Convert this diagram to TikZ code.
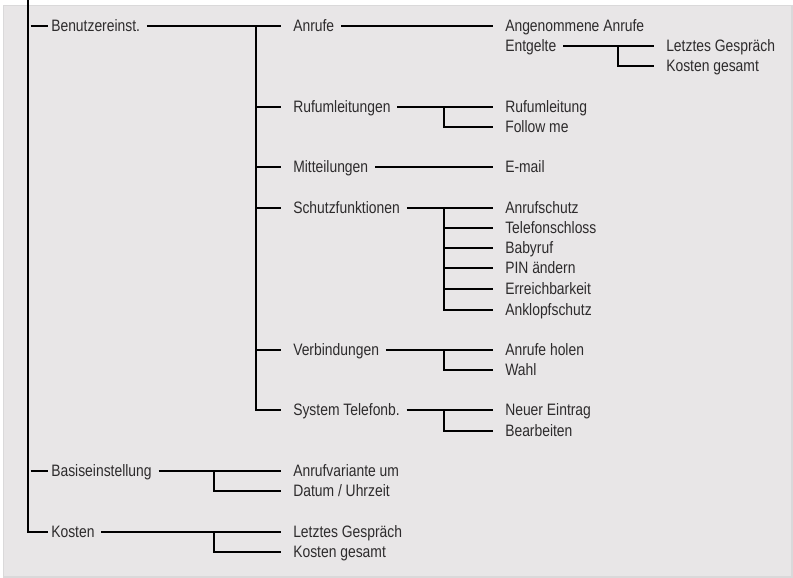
\documentclass[tikz,border=0pt]{standalone}
\usepackage{fontspec}
\setmainfont[FakeStretch=0.84]{Liberation Sans}
\usetikzlibrary{positioning, calc}
\definecolor{boxgray}{RGB}{232, 230, 231}
\definecolor{boxedge}{RGB}{218, 217, 218}
\definecolor{textgray}{RGB}{45, 43, 44}

\begin{document}
\begin{tikzpicture}[x=0.75pt, y=-0.75pt,
  entry/.style={anchor=west, inner sep=0pt, text height=8.9pt, text depth=0pt,
    font=\fontsize{12.4}{14}\selectfont, text=textgray},
  link/.style={line width=1.1pt, shorten <=5pt, shorten >=9pt},
  stub/.style={line width=1.1pt, shorten >=9pt},
  trunk/.style={line width=1.1pt, shorten >=2pt}]
  \useasboundingbox (0,0) rectangle (793,578);
  \filldraw[fill=boxgray, draw=boxedge, line width=0.8pt] (3.5,5.5) rectangle (792,577);

  % Level 1
  \coordinate (root) at (28,0);
  \node[entry] (benutzer) at (51,26) {Benutzereinst.};
  \node[entry] (basis) at (51,471) {Basiseinstellung};
  \node[entry] (kosten) at (51,532) {Kosten};

  % Level 2
  \node[entry] (anrufe) at (293,26) {Anrufe};
  \node[entry] (rufuml) at (293,107) {Rufumleitungen};
  \node[entry] (mitt) at (293,167) {Mitteilungen};
  \node[entry] (schutz) at (293,208) {Schutzfunktionen};
  \node[entry] (verb) at (293,350) {Verbindungen};
  \node[entry] (system) at (293,410) {System Telefonb.};
  \node[entry] (variante) at (293,471) {Anrufvariante um};
  \node[entry] (datum) at (293,491) {Datum / Uhrzeit};
  \node[entry] (letztesb) at (293,532) {Letztes Gespräch};
  \node[entry] (gesamtb) at (293,552) {Kosten gesamt};

  % Level 3
  \node[entry] (angen) at (505,26) {Angenommene Anrufe};
  \node[entry] (entgelte) at (505,46) {Entgelte};
  \node[entry] (rufum) at (505,107) {Rufumleitung};
  \node[entry] (follow) at (505,127) {Follow me};
  \node[entry] (email) at (505,167) {E-mail};
  \node[entry] (aschutz) at (505,208) {Anrufschutz};
  \node[entry] (tschloss) at (505,228) {Telefonschloss};
  \node[entry] (baby) at (505,248) {Babyruf};
  \node[entry] (pin) at (505,268) {PIN ändern};
  \node[entry] (erreich) at (505,289) {Erreichbarkeit};
  \node[entry] (anklopf) at (505,310) {Anklopfschutz};
  \node[entry] (holen) at (505,350) {Anrufe holen};
  \node[entry] (wahl) at (505,370) {Wahl};
  \node[entry] (neu) at (505,410) {Neuer Eintrag};
  \node[entry] (bearb) at (505,431) {Bearbeiten};

  % Level 4
  \node[entry] (letztesa) at (666,46) {Letztes Gespräch};
  \node[entry] (gesamta) at (666,66) {Kosten gesamt};

  % Branch points
  \coordinate (jbenutzer) at (256,26);
  \coordinate (jruf) at (444,107);
  \coordinate (jschutz) at (444,208);
  \coordinate (jverb) at (444,350);
  \coordinate (jsystem) at (444,410);
  \coordinate (jentgelte) at (618,46);
  \coordinate (jbasis) at (214,471);
  \coordinate (jkosten) at (214,532);

  % Trunk
  \draw[trunk] (root) |- (kosten.west);
  \draw[trunk, shorten <=2pt] (root |- benutzer.west) -- (benutzer.west);
  \draw[trunk, shorten <=2pt] (root |- basis.west) -- (basis.west);

  % Connectors
  \draw[link] (benutzer.east) -- (anrufe.west);
  \foreach \n in {rufuml, mitt, schutz, verb, system}
    \draw[stub] (jbenutzer) |- (\n.west);
  \draw[link] (anrufe.east) -- (angen.west);
  \draw[link] (entgelte.east) -- (letztesa.west);
  \draw[stub] (jentgelte) |- (gesamta.west);
  \draw[link] (rufuml.east) -- (rufum.west);
  \draw[stub] (jruf) |- (follow.west);
  \draw[link] (mitt.east) -- (email.west);
  \draw[link] (schutz.east) -- (aschutz.west);
  \foreach \n in {tschloss, baby, pin, erreich, anklopf}
    \draw[stub] (jschutz) |- (\n.west);
  \draw[link] (verb.east) -- (holen.west);
  \draw[stub] (jverb) |- (wahl.west);
  \draw[link] (system.east) -- (neu.west);
  \draw[stub] (jsystem) |- (bearb.west);
  \draw[link] (basis.east) -- (variante.west);
  \draw[stub] (jbasis) |- (datum.west);
  \draw[link] (kosten.east) -- (letztesb.west);
  \draw[stub] (jkosten) |- (gesamtb.west);
\end{tikzpicture}
\end{document}
